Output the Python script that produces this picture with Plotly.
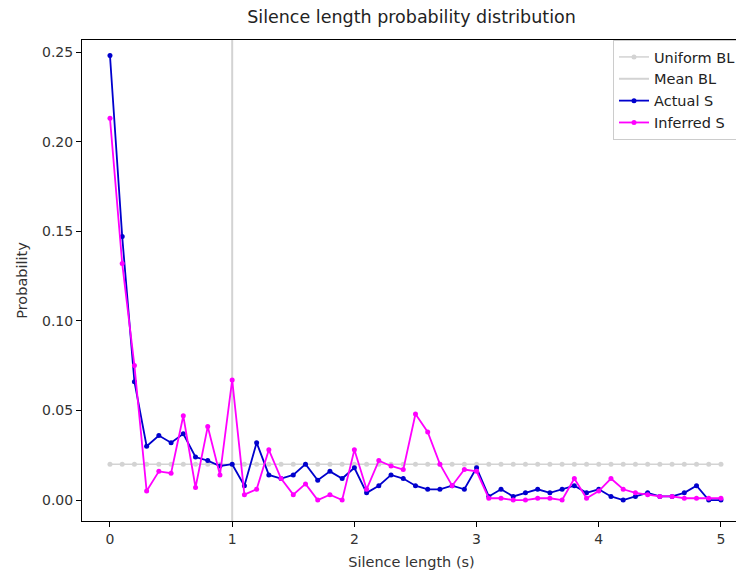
import plotly.graph_objects as go

x_vals = [round(i * 0.1, 1) for i in range(51)]

actual_s = [0.248, 0.147, 0.066, 0.030, 0.036, 0.032, 0.037, 0.024, 0.022, 0.019,
            0.020, 0.008, 0.032, 0.014, 0.012, 0.014, 0.020, 0.011, 0.016, 0.012,
            0.018, 0.004, 0.008, 0.014, 0.012, 0.008, 0.006, 0.006, 0.008, 0.006,
            0.018, 0.002, 0.006, 0.002, 0.004, 0.006, 0.004, 0.006, 0.008, 0.004,
            0.006, 0.002, 0.000, 0.002, 0.004, 0.002, 0.002, 0.004, 0.008, 0.000,
            0.000]

inferred_s = [0.213, 0.132, 0.075, 0.005, 0.016, 0.015, 0.047, 0.007, 0.041, 0.014,
              0.067, 0.003, 0.006, 0.028, 0.012, 0.003, 0.009, 0.000, 0.003, 0.000,
              0.028, 0.006, 0.022, 0.019, 0.017, 0.048, 0.038, 0.020, 0.008, 0.017,
              0.016, 0.001, 0.001, 0.000, 0.000, 0.001, 0.001, 0.000, 0.012, 0.001,
              0.005, 0.012, 0.006, 0.004, 0.003, 0.002, 0.002, 0.001, 0.001, 0.001,
              0.001]

uniform_bl = [0.02] * 51
mean_bl = 1.0

x_range = [-0.229, 5.164]
y_range = [-0.0117, 0.2567]

font = "DejaVu Sans"

fig = go.Figure()
fig.add_trace(go.Scatter(x=x_vals, y=uniform_bl, mode="lines+markers", name="Uniform BL",
                         legendgroup="a",
                         line=dict(color="#d3d3d3", width=1.5),
                         marker=dict(color="#d3d3d3", size=5)))
fig.add_trace(go.Scatter(x=[mean_bl, mean_bl], y=y_range, mode="lines", name="Mean BL",
                         legendgroup="b",
                         line=dict(color="#d3d3d3", width=2)))
fig.add_trace(go.Scatter(x=x_vals, y=actual_s, mode="lines+markers", name="Actual S",
                         legendgroup="c",
                         line=dict(color="#0000cd", width=1.8),
                         marker=dict(color="#0000cd", size=5)))
fig.add_trace(go.Scatter(x=x_vals, y=inferred_s, mode="lines+markers", name="Inferred S",
                         legendgroup="d",
                         line=dict(color="#ff00ff", width=1.8),
                         marker=dict(color="#ff00ff", size=5)))

axis_common = dict(showline=True, linecolor="black", linewidth=1, mirror=True,
                   ticks="outside", ticklen=5, tickcolor="black",
                   showgrid=False, zeroline=False, automargin=False,
                   tickfont=dict(family=font, size=14, color="#333333"))

fig.update_layout(
    width=736, height=567,
    margin=dict(l=74, r=3, t=32, b=54),
    paper_bgcolor="white", plot_bgcolor="white",
    title=dict(text="Silence length probability distribution", x=0.5, xref="paper", xanchor="center",
               y=0.984, yanchor="middle",
               font=dict(family=font, size=17.5, color="#222222")),
    xaxis=dict(range=x_range, tickvals=[0, 1, 2, 3, 4, 5],
               title=dict(text="Silence length (s)", font=dict(family=font, size=14.5, color="#333333"), standoff=11),
               **axis_common),
    yaxis=dict(range=y_range, tickvals=[0, 0.05, 0.10, 0.15, 0.20, 0.25], tickformat=".2f",
               title=dict(text="Probability", font=dict(family=font, size=14.5, color="#333333"), standoff=10),
               **axis_common),
    legend=dict(x=1.0, y=1.0, xanchor="right", yanchor="top",
                bgcolor="rgba(255,255,255,0.8)", bordercolor="#cccccc", borderwidth=1,
                font=dict(family=font, size=14.5, color="#222222"),
                tracegroupgap=0, itemwidth=30),
    showlegend=True,
)

fig.write_html("out.html")
